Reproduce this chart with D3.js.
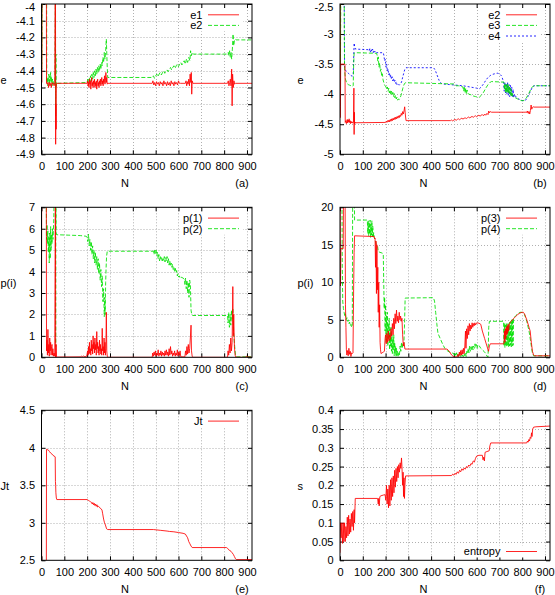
<!DOCTYPE html>
<html><head><meta charset="utf-8">
<script src="https://cdn.jsdelivr.net/npm/d3@7"></script>
<style>
body{margin:0;background:#fff}
svg{display:block}
text{font-family:"Liberation Sans",Arial,Helvetica,sans-serif;font-size:11px;fill:#000}
</style>
</head><body>
<svg id="chart" width="555" height="595"></svg>
<script>
// ---------------- DATA ----------------
const xTicks = [0,100,200,300,400,500,600,700,800,900];
const xMax = 922;
const yTicksA = [-4.9,-4.8,-4.7,-4.6,-4.5,-4.4,-4.3,-4.2,-4.1,-4];
const yTicksB = [-5,-4.5,-4,-3.5,-3,-2.5];
const yTicksC = [0,1,2,3,4,5,6,7];
const yTicksD = [0,5,10,15,20];
const yTicksE = [2.5,3,3.5,4,4.5];
const yTicksF = [0,0.05,0.1,0.15,0.2,0.25,0.3,0.35,0.4];

const e1 = [[0,-3.5],[1,-4.47],[2,-3.5],[21,-3.5],[22,-4.475],
[25,-4.48],[28,-4.47],[31,-4.5],[34,-4.47],[37,-4.49],[40,-4.475],[43,-4.5],[46,-4.47],[49,-4.48],[52,-4.475],[55,-4.49],[58,-4.475],
[61,-3.5],[62,-4.84],[63,-4.6],[64,-4.75],[65,-4.48],[67,-4.475],[200,-4.475],
[202,-4.46],[204,-4.49],[206,-4.47],[208,-4.50],[210,-4.45],[212,-4.48],[214,-4.46],[216,-4.51],[218,-4.47],[220,-4.44],[222,-4.49],[224,-4.47],[226,-4.50],[228,-4.46],[230,-4.48],[232,-4.45],[234,-4.50],[236,-4.47],[238,-4.49],[240,-4.46],[242,-4.51],[244,-4.47],[246,-4.45],[248,-4.49],[250,-4.47],[252,-4.50],[254,-4.46],[256,-4.48],[258,-4.45],[260,-4.49],[262,-4.47],[264,-4.44],[266,-4.48],[268,-4.46],[270,-4.49],[272,-4.45],[274,-4.47],[276,-4.43],[278,-4.48],[280,-4.46],[282,-4.41],[284,-4.47],[286,-4.44],[288,-4.48],[290,-4.475],
[485,-4.475],[488,-4.46],[492,-4.485],[496,-4.47],[500,-4.49],[504,-4.465],[508,-4.48],[512,-4.47],[516,-4.49],[520,-4.465],[524,-4.48],[528,-4.47],[532,-4.49],[536,-4.46],[540,-4.48],[544,-4.47],[548,-4.49],[552,-4.465],[556,-4.485],[560,-4.47],[564,-4.49],[568,-4.46],[572,-4.48],[576,-4.47],[580,-4.49],[584,-4.465],[588,-4.48],[592,-4.47],[596,-4.485],[600,-4.46],[604,-4.475],[608,-4.475],
[630,-4.475],[633,-4.46],[636,-4.49],[639,-4.465],[642,-4.48],[645,-4.45],[648,-4.49],[651,-4.42],[654,-4.47],[656,-4.41],[658,-4.54],[660,-4.46],[663,-4.475],
[815,-4.475],[818,-4.46],[821,-4.49],[824,-4.47],[827,-4.45],[830,-4.49],[833,-4.39],[835,-4.61],[837,-4.42],[840,-4.50],[843,-4.46],[846,-4.48],[850,-4.475],[922,-4.475]];

const e2 = [[0,-2.0],[1,-4.39],[2,-4.2],[3,-3.5],[22,-3.5],[23,-4.47],
[26,-4.44],[28,-4.49],[30,-4.45],[32,-4.42],[34,-4.48],[36,-4.43],[38,-4.46],[40,-4.41],[42,-4.47],[44,-4.44],[46,-4.49],[48,-4.45],[50,-4.48],[53,-4.46],[56,-4.48],[59,-4.47],
[61,-3.9],[62,-4.67],[63,-4.3],[64,-4.5],[66,-4.47],[70,-4.475],[200,-4.47],
[203,-4.45],[206,-4.47],[209,-4.44],[212,-4.46],[215,-4.43],[218,-4.46],[221,-4.42],[224,-4.45],[227,-4.41],[230,-4.44],[233,-4.40],[236,-4.43],[239,-4.39],[242,-4.42],[245,-4.38],[248,-4.41],[251,-4.37],[254,-4.40],[257,-4.36],[260,-4.39],[263,-4.35],[266,-4.37],[269,-4.32],[272,-4.35],[275,-4.29],[278,-4.33],[281,-4.28],[284,-4.21],[286,-4.30],[288,-4.38],[290,-4.44],
[485,-4.44],[490,-4.43],[495,-4.445],[500,-4.43],[505,-4.42],[510,-4.435],[515,-4.42],[520,-4.41],[525,-4.425],[530,-4.41],[535,-4.40],[540,-4.415],[545,-4.40],[550,-4.395],[555,-4.405],[560,-4.39],[565,-4.38],[570,-4.395],[575,-4.38],[580,-4.37],[585,-4.385],[590,-4.37],[595,-4.36],[600,-4.375],[605,-4.36],[610,-4.35],[615,-4.365],[620,-4.35],[625,-4.34],[630,-4.36],[635,-4.33],[640,-4.35],[645,-4.32],[650,-4.34],[653,-4.28],[656,-4.31],[660,-4.29],[665,-4.30],
[815,-4.30],[818,-4.29],[821,-4.31],[824,-4.28],[827,-4.32],[830,-4.29],[833,-4.33],[836,-4.27],[839,-4.18],[842,-4.25],[845,-4.22],[848,-4.21],[852,-4.215],[922,-4.215]];

const e3 = [[0,-2.0],[2,-3.5],[4,-2.0],[18,-2.0],[20,-3.6],[24,-3.75],[30,-3.82],[36,-3.84],[42,-3.85],[48,-3.86],[54,-3.87],[58,-3.86],[60,-3.5],[62,-3.32],[66,-3.31],[160,-3.32],
[163,-3.35],[166,-3.45],[168,-3.38],[171,-3.55],[174,-3.48],[177,-3.62],[180,-3.58],[183,-3.70],[186,-3.66],[189,-3.76],[192,-3.80],[195,-3.84],[198,-3.86],[202,-3.88],
[205,-3.92],[208,-3.88],[211,-3.95],[214,-3.90],[217,-3.98],[220,-3.93],[223,-4.0],[226,-3.95],[229,-4.02],[232,-3.97],[235,-4.04],[238,-3.99],[241,-4.06],[244,-4.02],[247,-4.08],[250,-4.05],[253,-4.10],[256,-4.08],[260,-4.09],
[264,-4.06],[268,-4.02],[272,-3.96],[276,-3.9],[280,-3.85],[284,-3.82],[288,-3.81],[500,-3.83],
[505,-3.85],[510,-3.86],[520,-3.86],[530,-3.87],[540,-3.88],[543,-3.95],[546,-3.87],[549,-3.98],[552,-3.9],[555,-4.0],[558,-3.93],[561,-3.98],[565,-4.0],[575,-4.01],[585,-4.03],[595,-4.04],[605,-4.05],[612,-4.05],
[620,-4.02],[630,-3.97],[640,-3.9],[650,-3.84],[660,-3.8],[665,-3.79],[720,-3.8],
[722,-3.92],[724,-3.82],[726,-3.96],[728,-3.84],[730,-3.98],[732,-3.85],[734,-3.95],[736,-3.83],[738,-3.99],[740,-3.86],[742,-3.97],[744,-3.88],[746,-4.0],[748,-3.9],[750,-4.02],[752,-3.93],[754,-4.03],[756,-3.98],[760,-4.04],
[770,-4.06],[780,-4.08],[790,-4.1],[800,-4.11],[810,-4.1],[820,-4.05],[830,-3.98],[840,-3.9],[850,-3.86],[922,-3.86]];

const e4 = [[0,-2.0],[18,-2.0],[20,-3.55],[24,-3.6],[30,-3.63],[36,-3.65],[42,-3.67],[48,-3.69],[54,-3.70],[58,-3.68],[60,-3.4],[62,-3.15],[65,-3.22],[68,-3.25],[125,-3.26],
[128,-3.28],[131,-3.24],[134,-3.30],[137,-3.26],[140,-3.29],[143,-3.25],[146,-3.31],[149,-3.27],[152,-3.30],[155,-3.28],[160,-3.31],[190,-3.31],
[193,-3.36],[196,-3.45],[199,-3.42],[202,-3.55],[205,-3.5],[208,-3.62],[211,-3.58],[214,-3.68],[217,-3.64],[220,-3.72],[223,-3.68],[226,-3.75],[229,-3.71],[232,-3.78],[235,-3.74],[238,-3.8],[241,-3.77],[244,-3.82],[247,-3.79],[250,-3.84],[255,-3.82],[260,-3.85],[265,-3.83],[270,-3.8],[275,-3.72],[280,-3.65],[285,-3.58],[290,-3.56],[410,-3.56],
[415,-3.58],[420,-3.62],[425,-3.67],[430,-3.72],[435,-3.77],[440,-3.8],[445,-3.82],[450,-3.83],[480,-3.84],[510,-3.85],[540,-3.86],[570,-3.88],[600,-3.9],[612,-3.91],
[620,-3.88],[630,-3.83],[640,-3.77],[650,-3.72],[660,-3.69],[670,-3.67],[680,-3.66],[690,-3.65],[700,-3.66],[710,-3.7],[715,-3.76],
[718,-3.82],[721,-3.95],[724,-3.8],[727,-3.98],[730,-3.82],[733,-4.0],[736,-3.81],[739,-4.02],[742,-3.84],[745,-4.04],[748,-3.85],[751,-4.03],[754,-3.88],[757,-4.05],[760,-3.92],[763,-4.06],[766,-4.0],
[775,-4.06],[785,-4.08],[795,-4.1],[805,-4.11],[815,-4.1],[825,-4.04],[835,-3.96],[845,-3.88],[852,-3.86],[922,-3.86]];

const p1 = [[0,0.1],[1,9],[21,9],[22,0.3],
[24,0.8],[26,0.1],[28,1.3],[30,0.2],[32,0.6],[34,0.05],[36,0.9],[38,0.3],[40,0.7],[42,0.1],[44,0.5],[46,0.6],[48,0.1],[50,0.4],[52,0.05],[55,0.2],[58,0.05],
[61,9],[62,0],[64,0.6],[66,0.02],[70,0.01],[170,0.02],[175,0.05],[180,0.03],[185,0.06],[190,0.02],[198,0.05],
[202,0.3],[204,0.1],[206,0.5],[208,0.15],[210,0.7],[212,0.2],[214,0.4],[216,0.1],[218,0.8],[220,0.3],[222,0.6],[224,0.15],[226,1.0],[228,0.4],[230,0.7],[232,0.2],[234,0.9],[236,0.35],[238,0.6],[240,0.1],[242,1.2],[244,0.4],[246,0.7],[248,0.2],[250,0.5],[252,0.1],[254,0.8],[256,0.3],[258,0.6],[260,0.15],[262,0.4],[264,0.1],[266,1.35],[268,0.3],[270,0.5],[272,0.1],[274,0.9],[276,0.2],[278,0.7],[280,0.1],[282,0.4],[284,2.1],[286,0.3],[288,0.05],[290,0],
[485,0],[487,0.2],[490,0.05],[493,0.25],[496,0.1],[499,0.3],[502,0.05],[505,0.2],[508,0.1],[511,0.35],[514,0.05],[517,0.2],[520,0.1],[523,0.3],[526,0.05],[529,0.25],[532,0.1],[535,0.2],[538,0.05],[541,0.3],[544,0.1],[547,0.35],[550,0.1],[553,0.25],[556,0.05],[559,0.4],[562,0.1],[565,0.5],[568,0.15],[571,0.3],[574,0.05],[577,0.2],[580,0.1],[583,0.3],[586,0.05],[589,0.2],[592,0.1],[595,0.35],[598,0.05],[601,0.25],[604,0.1],[607,0.3],[610,0.02],[628,0.02],
[631,0.3],[634,0.1],[637,0.5],[640,0.15],[643,0.6],[646,0.2],[649,0.4],[652,0.9],[655,1.5],[657,0.3],[660,0.05],[663,0],[815,0],
[817,0.3],[820,0.1],[823,0.6],[826,0.2],[829,0.9],[832,0.3],[835,0.7],[838,3.3],[840,1.0],[842,2.0],[845,0.5],[848,0.1],[852,0],[895,0],[898,0.05],[902,0.02],[922,0]];

const p2 = [[0,9],[20,9],[22,5.5],[24,6.2],[26,5.3],[28,5.9],[30,4.9],[32,5.6],[34,4.4],[36,5.8],[38,4.6],[40,6.1],[42,5.0],[44,5.7],[46,5.3],[48,6.0],[50,5.5],[52,5.9],[54,6.5],[56,9],[61,9],[62,0.5],[63,9],[64,5.8],[66,5.72],
[120,5.7],[170,5.68],[195,5.65],
[200,5.6],[203,5.4],[206,5.75],[209,5.2],[212,5.5],[215,5.0],[218,5.4],[221,4.8],[224,5.2],[227,4.6],[230,5.0],[233,4.4],[236,4.9],[239,4.3],[242,4.7],[245,4.1],[248,4.6],[251,3.9],[254,4.4],[257,3.6],[260,4.1],[263,3.3],[266,3.8],[269,2.6],[272,3.2],[275,1.9],[277,2.8],[279,2.0],[281,3.5],[283,4.2],[285,4.7],[288,4.95],[490,4.95],
[493,4.8],[496,5.05],[499,4.85],[502,5.0],[505,4.75],[508,4.9],[511,4.6],[514,4.8],[517,4.5],[520,4.7],[523,4.55],[526,4.65],[529,4.45],[532,4.6],[535,4.5],[538,4.7],[541,4.45],[544,4.65],[547,4.5],[550,4.7],[553,4.4],[556,4.6],[559,4.3],[562,4.5],[565,4.25],[568,4.4],[571,4.2],[574,4.35],[577,4.1],[580,4.2],[583,4.0],[586,4.15],[589,3.95],[592,4.05],[595,3.8],[598,3.9],[601,3.75],[604,3.8],[607,3.7],[610,3.75],[615,3.72],[620,3.7],[625,3.65],[628,3.4],[631,3.7],[634,3.2],[637,3.6],[640,3.0],[643,3.5],[646,2.8],[649,3.6],[652,3.4],[655,2.2],[658,2.0],[662,1.95],[815,1.95],
[817,1.6],[820,2.1],[823,1.4],[826,2.0],[829,1.5],[832,2.2],[835,1.7],[838,2.3],[841,1.2],[844,0.8],[847,0.4],[850,0.1],[855,0.02],[895,0.02],[898,0.08],[902,0.03],[922,0.02]];

const p3 = [[0,25],[2,9.5],[4,14.5],[14,14.5],[16,25],[22,25],[24,7],[26,4],[28,1],[30,0.3],[33,0.9],[36,0.2],[39,1.2],[42,0.4],[45,0.8],[48,0.1],[51,0.6],[54,0.5],[57,0.6],[60,9.5],[62,14],[64,16.2],[150,16.1],
[152,15.8],[154,15.9],[156,12],[158,15.5],[160,8.5],[162,15],[164,9],[166,12],[168,6],[170,10],[172,4],[174,7],[176,2],[178,1],[180,0.5],[185,0.6],[190,0.7],[195,0.8],
[198,2.5],[200,3.0],[203,1.8],[206,3.2],[209,2.0],[212,3.5],[215,2.2],[218,3.0],[221,2.4],[224,3.8],[227,2.8],[230,4.5],[233,3.0],[236,5.2],[239,3.8],[242,5.8],[245,4.5],[248,6.3],[251,4.8],[254,5.5],[257,4.6],[260,6.0],[263,5.0],[266,5.5],[269,4.8],[272,5.2],[275,3.0],[278,1.5],[281,2.0],[285,1.1],
[470,1.1],[480,0.8],[490,0.3],[500,0.05],[515,0.05],
[518,0.4],[521,0.1],[524,0.7],[527,0.2],[530,0.9],[533,0.3],[536,1.0],[539,0.4],[542,1.2],[545,0.5],[548,1.5],[551,3.5],[553,1.2],[556,3.8],[559,2.5],[562,4.2],[565,3.0],[568,4.5],[571,3.5],[574,4.3],[577,3.8],[580,4.6],[583,4.0],[586,4.5],[589,4.2],[592,4.6],[595,4.3],[600,4.6],[610,4.55],[618,4.4],
[625,3.5],[635,2.5],[645,1.5],[652,0.8],[656,1.5],[660,1.8],[720,1.8],
[722,3.5],[724,2.0],[726,3.8],[728,2.5],[730,4.0],[732,3.0],[734,4.2],[736,3.2],[738,4.4],[740,3.5],[744,4.5],[748,4.7],[752,4.8],[756,5.0],[760,5.1],[770,5.4],[780,5.7],[790,5.9],[800,6.0],[805,6.0],[810,5.8],[820,5.0],[830,4.0],[835,3.5],[840,2.0],[845,0.8],[850,0.3],[855,0.2],[922,0.2]];

const p4 = [[0,25],[8,25],[10,12],[12,7.5],[15,6.5],[18,6],[21,5.5],[24,5.8],[27,5.0],[30,5.3],[33,4.8],[36,5.0],[39,4.5],[42,4.7],[45,4.2],[48,4.4],[51,4.0],[54,4.3],[56,25],[62,25],[64,18.3],[120,18.3],
[122,16.5],[124,18.2],[126,16.2],[128,18.0],[130,16.4],[132,18.3],[134,16.0],[136,17.8],[138,16.3],[140,18.2],[142,16.1],[144,17.5],[146,16.0],[148,16.6],
[150,16.0],[155,15.5],[160,15.0],[165,14.8],[168,14.1],[175,14.0],[185,13.9],[190,13.8],
[192,10],[194,6.5],[196,8],[198,3.5],[200,7.0],[202,2.0],[204,5.5],[206,3.0],[208,6.0],[210,1.5],[212,4.5],[214,2.5],[216,5.2],[218,1.0],[220,3.8],[222,1.5],[224,4.0],[226,0.8],[228,3.0],[230,0.5],[232,2.5],[234,1.0],[236,3.0],[238,0.2],[240,2.0],[242,0.5],[244,1.5],[246,0.1],[248,1.2],[250,0.2],[252,0.8],[255,0.1],[258,0.6],[261,0.3],[264,1.5],[267,0.8],[270,2.0],[273,1.2],[276,1.8],[280,1.5],[283,4.0],[286,7.9],[410,7.95],
[415,7.5],[420,6.0],[425,4.5],[430,3.2],[440,2.5],[450,1.8],[460,1.2],[470,0.9],[480,0.7],[490,0.6],[500,0.5],
[503,0.1],[506,0.5],[509,0.2],[512,0.6],[515,0.1],[518,0.4],[521,0.05],[524,0.3],[527,0.6],[530,0.1],[533,0.4],[536,0.05],[539,0.3],[542,0.1],[545,0.5],[548,0.2],[551,0.6],[554,0.1],[557,0.8],
[560,0.5],[563,1.2],[566,0.6],[569,1.5],[572,0.8],[575,1.4],[578,0.9],[581,1.6],[584,1.0],[587,1.5],[590,1.2],[593,1.8],[596,1.3],[599,1.7],[602,1.2],[605,1.6],[608,1.4],[612,1.5],[618,1.2],[625,1.0],[632,0.8],[640,0.5],[646,0.1],[650,0.05],[653,4.0],[656,4.8],[718,4.8],
[720,1.5],[722,4.5],[724,1.3],[726,4.3],[728,1.5],[730,4.6],[732,1.4],[734,4.2],[736,1.6],[738,4.5],[740,1.4],[742,4.4],[744,1.5],[746,4.7],[748,1.6],[750,4.8],[752,1.4],[754,5.0],[756,1.5],[758,5.1],[760,1.6],[762,5.2],
[770,5.5],[780,5.8],[790,6.0],[800,6.0],[810,5.7],[820,4.8],[830,3.5],[840,1.5],[845,0.5],[850,0.2],[922,0.2]];

const jt = [[0,4.05],[1,2.0],[21,2.0],[22,3.98],[30,3.97],[35,3.95],[40,3.93],[45,3.92],[50,3.9],[55,3.89],[60,3.88],[61,3.55],[62,3.5],[63,3.4],[65,3.33],[67,3.31],[200,3.31],
[205,3.3],[210,3.29],[215,3.28],[220,3.27],[222,3.25],[225,3.27],[228,3.24],[231,3.26],[234,3.23],[237,3.25],[240,3.22],[243,3.24],[246,3.21],[250,3.22],[255,3.2],[260,3.19],[265,3.17],[268,3.12],[272,3.05],[276,3.0],[280,2.97],[285,2.92],[290,2.91],
[490,2.91],[520,2.9],[550,2.89],[560,2.885],[580,2.88],[600,2.87],[620,2.86],[630,2.85],[640,2.8],[645,2.75],[650,2.72],[655,2.69],[660,2.67],[810,2.67],
[815,2.66],[820,2.64],[825,2.63],[830,2.62],[835,2.6],[840,2.58],[845,2.55],[850,2.52],[853,2.51],[922,2.51]];

const entropy = [[0,0.02],[2,0.1],[5,0.06],[8,0.1],[11,0.045],[14,0.1],[17,0.05],[20,0.1],[23,0.05],[26,0.09],[29,0.06],[32,0.115],[35,0.065],[38,0.12],[41,0.07],[44,0.11],[47,0.075],[50,0.125],[53,0.09],[56,0.13],[59,0.08],[62,0.135],[64,0.1],[67,0.165],
[165,0.165],[168,0.15],[170,0.165],[172,0.145],[175,0.17],[180,0.172],[190,0.174],[198,0.175],
[201,0.16],[204,0.2],[207,0.15],[210,0.19],[213,0.14],[216,0.2],[219,0.145],[222,0.215],[225,0.16],[228,0.22],[231,0.17],[234,0.225],[237,0.18],[240,0.24],[243,0.195],[246,0.245],[249,0.21],[252,0.25],[255,0.22],[258,0.255],[261,0.235],[264,0.26],[267,0.245],[270,0.273],[272,0.25],[275,0.2],[277,0.235],[279,0.17],[281,0.22],[283,0.165],[285,0.2],[288,0.225],
[490,0.226],[495,0.23],[500,0.227],[505,0.232],[510,0.229],[515,0.236],[520,0.232],[525,0.24],[530,0.236],[535,0.244],[540,0.24],[545,0.246],[550,0.243],[555,0.25],[560,0.247],[565,0.254],[570,0.251],[575,0.258],[580,0.256],[585,0.265],[590,0.262],[595,0.272],[600,0.278],[610,0.28],[625,0.28],[628,0.268],[631,0.275],[634,0.265],[637,0.288],[645,0.29],[655,0.292],[658,0.305],[662,0.313],
[820,0.313],[823,0.318],[826,0.315],[829,0.322],[832,0.318],[835,0.328],[838,0.325],[841,0.34],[843,0.33],[846,0.35],[850,0.355],[860,0.356],[922,0.358]];

// ---------------- LAYOUT / STYLE ----------------
const RED = "#ff0000", GREEN = "#00e000", BLUE = "#0000ff";
const cols = [{x0:41.5, x1:252}, {x0:340, x1:550}];
const rows = [{y0:4, y1:154.3}, {y0:207.3, y1:357.3}, {y0:410.3, y1:560.3}];

const panels = [
  {c:0, r:0, yDomain:[-4.9,-4], yTicks:yTicksA, yLabel:"e", tag:"(a)", keyPos:"top",
   series:[{name:"e1", data:e1, color:RED, dash:null},{name:"e2", data:e2, color:GREEN, dash:"4,2"}]},
  {c:1, r:0, yDomain:[-5,-2.5], yTicks:yTicksB, yLabel:"e", tag:"(b)", keyPos:"top",
   series:[{name:"e2", data:e2, color:RED, dash:null},{name:"e3", data:e3, color:GREEN, dash:"4,2"},{name:"e4", data:e4, color:BLUE, dash:"2,2"}]},
  {c:0, r:1, yDomain:[0,7], yTicks:yTicksC, yLabel:"p(i)", tag:"(c)", keyPos:"top",
   series:[{name:"p(1)", data:p1, color:RED, dash:null},{name:"p(2)", data:p2, color:GREEN, dash:"4,2"}]},
  {c:1, r:1, yDomain:[0,20], yTicks:yTicksD, yLabel:"p(i)", tag:"(d)", keyPos:"top",
   series:[{name:"p(3)", data:p3, color:RED, dash:null},{name:"p(4)", data:p4, color:GREEN, dash:"4,2"}]},
  {c:0, r:2, yDomain:[2.5,4.5], yTicks:yTicksE, yLabel:"Jt", tag:"(e)", keyPos:"top",
   series:[{name:"Jt", data:jt, color:RED, dash:null}]},
  {c:1, r:2, yDomain:[0,0.4], yTicks:yTicksF, yLabel:"s", tag:"(f)", keyPos:"bottom",
   series:[{name:"entropy", data:entropy, color:RED, dash:null}]}
];

const svg = d3.select("#chart");
svg.append("rect").attr("width",555).attr("height",595).attr("fill","#fff");

panels.forEach((p, i) => {
  const C = cols[p.c], R = rows[p.r];
  const x = d3.scaleLinear().domain([0, xMax]).range([C.x0, C.x1]);
  const y = d3.scaleLinear().domain(p.yDomain).range([R.y1, R.y0]);
  const g = svg.append("g");

  const cid = "clip" + i;
  g.append("clipPath").attr("id", cid).append("rect")
    .attr("x", C.x0).attr("y", R.y0).attr("width", C.x1 - C.x0).attr("height", R.y1 - R.y0);

  // grid
  const grid = g.append("g").attr("stroke", "#b0b0b0").attr("stroke-width", 1).attr("stroke-dasharray", "1,2");
  xTicks.filter(t => t > 0).forEach(t => {
    grid.append("line").attr("x1", Math.round(x(t)) + 0.5).attr("x2", Math.round(x(t)) + 0.5).attr("y1", R.y0).attr("y2", R.y1);
  });
  p.yTicks.filter(t => t !== p.yDomain[0] && t !== p.yDomain[1]).forEach(t => {
    grid.append("line").attr("y1", Math.round(y(t)) + 0.5).attr("y2", Math.round(y(t)) + 0.5).attr("x1", C.x0).attr("x2", C.x1);
  });

  // axes
  const ax = g.append("g").attr("transform", `translate(${C.x0},0)`)
    .call(d3.axisLeft(y).tickValues(p.yTicks).tickFormat(d => String(d)).tickSize(-4).tickPadding(6.5));
  const axR = g.append("g").attr("transform", `translate(${C.x1},0)`)
    .call(d3.axisRight(y).tickValues(p.yTicks).tickFormat("").tickSize(-4));
  const axB = g.append("g").attr("transform", `translate(0,${R.y1})`)
    .call(d3.axisBottom(x).tickValues(xTicks).tickFormat(d => String(d)).tickSize(-4).tickPadding(7.5));
  const axT = g.append("g").attr("transform", `translate(0,${R.y0})`)
    .call(d3.axisTop(x).tickValues(xTicks).tickFormat("").tickSize(-4));
  [ax, axR, axB, axT].forEach(a => {
    a.select(".domain").remove();
    a.attr("font-family", null).attr("font-size", null);
    a.selectAll("text").attr("fill", "#000");
    a.selectAll("line").attr("stroke", "#000");
  });
  // keep the topmost label of the top row inside the canvas
  if (p.r === 0) {
    ax.selectAll(".tick").filter(d => d === p.yDomain[1]).select("text").attr("y", 2.5);
  }

  // series
  const line = d3.line().x(d => x(d[0])).y(d => y(d[1]));
  const sg = g.append("g").attr("clip-path", `url(#${cid})`);
  p.series.slice().reverse().forEach(s => {
    sg.append("path").datum(s.data).attr("d", line)
      .attr("fill", "none").attr("stroke", s.color).attr("stroke-width", 1)
      .attr("stroke-opacity", 0.85)
      .attr("stroke-dasharray", s.dash);
  });

  // frame
  g.append("rect").attr("x", C.x0).attr("y", R.y0).attr("width", C.x1 - C.x0).attr("height", R.y1 - R.y0)
    .attr("fill", "none").attr("stroke", "#000").attr("stroke-width", 1);

  // key
  const kg = g.append("g");
  const tx = C.x1 - 49.5, lx0 = C.x1 - 44, lx1 = C.x1 - 13;
  const n = p.series.length;
  const yk = j => p.keyPos === "top" ? R.y0 + 10.8 + j * 10.6 : R.y1 - 8.8 - (n - 1 - j) * 10.6;
  const bg = kg.append("rect").attr("fill", "#fff");
  let maxW = 0;
  p.series.forEach((s, j) => {
    const t = kg.append("text").attr("x", tx).attr("y", yk(j)).attr("dy", "0.35em")
      .attr("text-anchor", "end").text(s.name);
    maxW = Math.max(maxW, t.node().getComputedTextLength());
    kg.append("line").attr("x1", lx0).attr("x2", lx1).attr("y1", yk(j)).attr("y2", yk(j))
      .attr("stroke", s.color).attr("stroke-width", 1).attr("stroke-opacity", 0.85).attr("stroke-dasharray", s.dash);
  });
  bg.attr("x", tx - maxW - 3).attr("y", yk(0) - 6).attr("width", lx1 + 4 - (tx - maxW - 3)).attr("height", (n - 1) * 10.6 + 12);

  // labels
  const lx = p.c === 0 ? 0.5 : 297.5;
  g.append("text").attr("x", lx).attr("y", (R.y0 + R.y1) / 2 + 1).attr("dy", "0.35em")
    .attr("text-anchor", "start").text(p.yLabel);
  g.append("text").attr("x", C.x0 + 83.5).attr("y", R.y1 + 28.5).attr("dy", "0.35em")
    .attr("text-anchor", "middle").text("N");
  g.append("text").attr("x", C.x1 - 10).attr("y", R.y1 + 28.5).attr("dy", "0.35em")
    .attr("text-anchor", "middle").text(p.tag);
});
</script>
</body></html>
